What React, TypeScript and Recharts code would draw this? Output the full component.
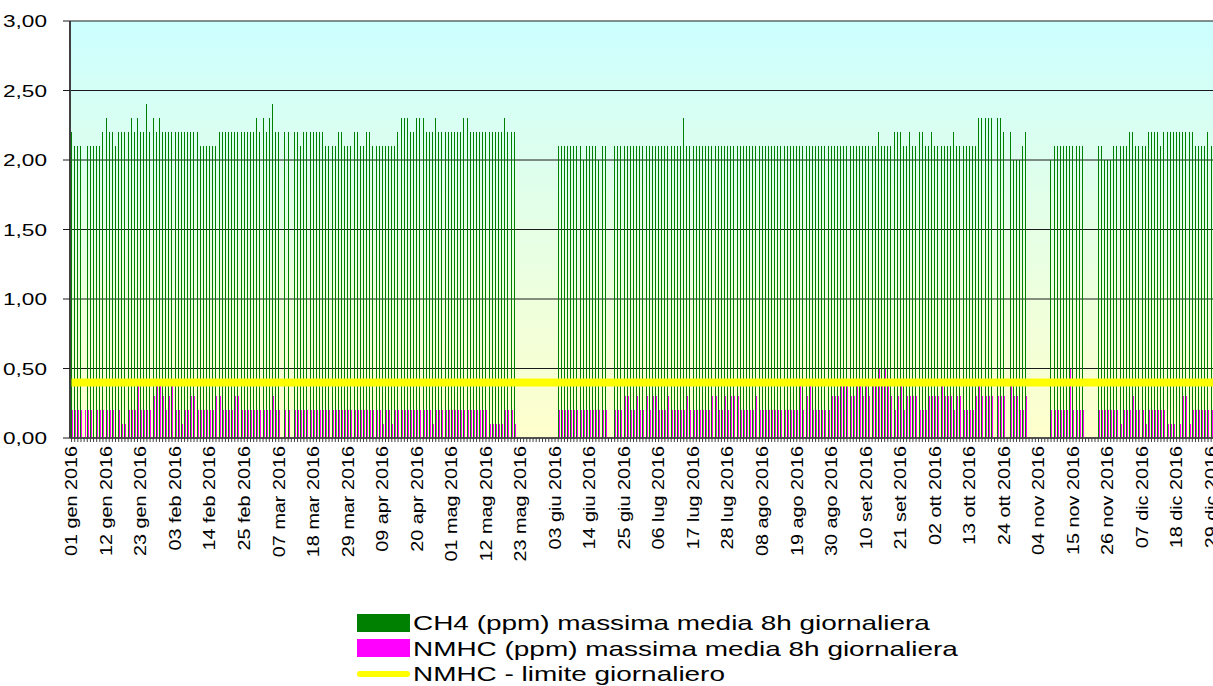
import React from 'react';
import { ComposedChart, Bar, Line, XAxis, YAxis, CartesianGrid, Legend } from 'recharts';

const FONT = '"Liberation Sans", Arial, Helvetica, sans-serif';

// categorie: un giorno per ogni barra
const MONTHS = ['gen', 'feb', 'mar', 'apr', 'mag', 'giu', 'lug', 'ago', 'set', 'ott', 'nov', 'dic'];
const MONTH_DAYS = [31, 29, 31, 30, 31, 30, 31, 31, 30, 31, 30, 31];
const YEAR = '2016';

// etichette dell'asse X (una ogni 11 giorni)
const TICK_EVERY = 11;

const _ = null;

// CH4 (ppm) massima media 8h giornaliera
const ch4Gen = [2.2, 2.1, 2.1, 2.1, _, 2.1, 2.1, 2.1, 2.1, 2.1, 2.2, 2.3, 2.2, 2.2, 2.1, 2.2, 2.2, 2.2, 2.2, 2.3, 2.2, 2.3, 2.2, 2.2, 2.4, 2.2, 2.3, 2.2, 2.3, 2.2, 2.2];
const ch4Feb = [2.2, 2.2, 2.2, 2.2, 2.2, 2.2, 2.2, 2.2, 2.2, 2.2, 2.1, 2.1, 2.1, 2.1, 2.1, 2.1, 2.2, 2.2, 2.2, 2.2, 2.2, 2.2, 2.2, 2.2, 2.2, 2.2, 2.2, 2.2, 2.3];
const ch4Mar = [2.2, 2.3, 2.2, 2.3, 2.4, 2.2, 2.2, _, 2.2, 2.2, _, 2.2, 2.2, 2.1, 2.2, 2.2, 2.2, 2.2, 2.2, 2.2, 2.2, 2.1, 2.1, 2.1, 2.1, 2.2, 2.2, 2.1, 2.1, 2.1, 2.2];
const ch4Apr = [2.2, 2.1, 2.1, 2.2, 2.2, 2.1, 2.1, 2.1, 2.1, 2.1, 2.1, 2.1, 2.1, 2.2, 2.3, 2.3, 2.3, 2.2, 2.2, 2.3, 2.3, 2.3, 2.2, 2.2, 2.2, 2.3, 2.2, 2.2, 2.2, 2.2];
const ch4Mag = [2.2, 2.2, 2.2, 2.2, 2.3, 2.3, 2.2, 2.2, 2.2, 2.2, 2.2, 2.2, 2.2, 2.2, 2.2, 2.2, 2.2, 2.3, 2.2, 2.2, 2.2, _, _, _, _, _, _, _, _, _, _];
const ch4Giu = [_, _, _, 2.1, 2.1, 2.1, 2.1, 2.1, 2.1, 2.1, 2.1, 2.0, 2.1, 2.1, 2.1, 2.1, 2.0, 2.1, 2.1, _, _, 2.1, 2.1, 2.1, 2.1, 2.1, 2.1, 2.1, 2.1, 2.1];
const ch4Lug = [2.1, 2.1, 2.1, 2.1, 2.1, 2.1, 2.1, 2.1, 2.1, 2.1, 2.1, 2.1, 2.1, 2.3, 2.1, 2.1, 2.1, 2.1, 2.1, 2.1, 2.1, 2.1, 2.1, 2.1, 2.1, 2.1, 2.1, 2.1, 2.1, 2.1, 2.1];
const ch4Ago = [2.1, 2.1, 2.1, 2.1, 2.1, 2.1, 2.1, 2.1, 2.1, 2.1, 2.1, 2.1, 2.1, 2.1, 2.1, 2.1, 2.1, 2.1, 2.1, 2.1, 2.1, 2.1, 2.1, 2.1, 2.1, 2.1, 2.1, 2.1, 2.1, 2.1, 2.1];
const ch4Set = [2.1, 2.1, 2.1, 2.1, 2.1, 2.1, 2.1, 2.1, 2.1, 2.1, 2.1, 2.1, 2.1, 2.2, 2.1, 2.1, 2.1, 2.1, 2.2, 2.2, 2.2, 2.1, 2.1, 2.2, 2.1, 2.1, 2.2, 2.2, 2.1, 2.1];
const ch4Ott = [2.2, 2.1, 2.1, 2.1, 2.1, 2.1, 2.1, 2.2, 2.1, 2.1, 2.1, 2.1, 2.1, 2.1, 2.1, 2.3, 2.3, 2.3, 2.3, 2.3, _, 2.3, 2.3, 2.2, _, 2.2, 2.0, 2.0, 2.0, 2.1, 2.2];
const ch4Nov = [_, _, _, _, _, _, _, 2.0, 2.1, 2.1, 2.1, 2.1, 2.1, 2.1, 2.1, 2.1, 2.1, 2.1, _, _, _, _, 2.1, 2.1, 2.0, 2.0, 2.0, 2.1, 2.1, 2.1];
const ch4Dic = [2.1, 2.1, 2.2, 2.2, 2.1, 2.1, 2.1, 2.1, 2.2, 2.2, 2.2, 2.2, 2.1, 2.2, 2.2, 2.2, 2.2, 2.2, 2.2, 2.2, 2.2, 2.2, 2.2, 2.1, 2.1, 2.1, 2.1, 2.2, 2.1, 2.1, 2.1];

// NMHC (ppm) massima media 8h giornaliera
const nmhcGen = [0.2, 0.2, 0.2, 0.2, 0.2, 0.2, 0.2, _, 0.2, 0.2, 0.2, 0.2, 0.2, 0.2, _, 0.2, 0.1, 0.1, 0.2, 0.2, 0.2, 0.4, 0.2, 0.2, 0.2, 0.2, 0.3, 0.4, 0.4, 0.3, 0.2];
const nmhcFeb = [0.3, 0.4, 0.2, 0.2, 0.1, 0.2, 0.2, 0.3, 0.3, 0.2, 0.2, 0.2, 0.2, 0.2, 0.2, 0.3, 0.3, 0.2, 0.2, 0.2, 0.2, 0.3, 0.3, 0.2, 0.2, 0.2, 0.2, 0.2, 0.2];
const nmhcMar = [0.2, 0.2, 0.2, 0.2, 0.3, 0.2, 0.2, _, 0.2, 0.2, _, 0.2, 0.2, 0.2, 0.2, 0.2, 0.2, 0.2, 0.2, 0.2, 0.2, 0.2, 0.2, 0.2, 0.2, 0.2, 0.2, 0.2, 0.2, 0.2, 0.2];
const nmhcApr = [0.2, 0.2, 0.2, 0.2, 0.2, 0.2, 0.2, 0.2, 0.1, 0.2, 0.2, 0.1, 0.2, 0.2, 0.2, 0.2, 0.2, 0.2, 0.2, 0.2, 0.2, 0.2, 0.2, 0.2, 0.1, 0.2, 0.2, 0.2, 0.2, 0.2];
const nmhcMag = [0.2, 0.2, 0.2, 0.2, 0.2, 0.2, 0.2, 0.2, 0.2, 0.2, 0.2, 0.2, 0.1, 0.1, 0.1, 0.1, 0.1, 0.2, 0.2, 0.2, 0.1, _, _, _, _, _, _, _, _, _, _];
const nmhcGiu = [_, _, _, 0.2, 0.2, 0.2, 0.2, 0.2, 0.2, 0.2, 0.2, 0.2, 0.2, 0.2, 0.2, 0.2, 0.2, 0.2, 0.2, _, _, 0.2, 0.2, 0.2, 0.3, 0.3, 0.2, 0.2, 0.3, 0.2];
const nmhcLug = [0.2, 0.3, 0.2, 0.3, 0.3, 0.2, 0.2, 0.2, 0.3, 0.2, 0.2, 0.2, 0.2, 0.2, 0.3, 0.2, 0.2, 0.2, 0.2, 0.2, 0.2, 0.2, 0.3, 0.3, 0.2, 0.2, 0.3, 0.2, 0.3, 0.3, 0.3];
const nmhcAgo = [0.2, 0.2, 0.2, 0.2, 0.2, 0.3, 0.2, 0.2, 0.2, 0.2, 0.2, 0.2, 0.2, 0.2, 0.2, 0.2, 0.2, 0.2, 0.2, 0.4, 0.2, 0.3, 0.4, 0.2, 0.2, 0.2, 0.2, 0.2, 0.2, 0.3, 0.3];
const nmhcSet = [0.3, 0.4, 0.4, 0.4, 0.3, 0.3, 0.4, 0.4, 0.3, 0.4, 0.3, 0.4, 0.4, 0.5, 0.4, 0.5, 0.4, 0.3, 0.2, 0.3, 0.4, 0.2, 0.3, 0.3, 0.3, 0.3, 0.2, 0.2, 0.2, 0.3];
const nmhcOtt = [0.3, 0.3, 0.3, 0.4, 0.3, 0.3, 0.3, 0.2, 0.3, 0.3, 0.2, 0.2, 0.2, 0.2, 0.3, 0.4, 0.3, 0.3, 0.3, 0.3, _, 0.3, 0.3, 0.3, _, 0.4, 0.3, 0.3, 0.2, 0.2, 0.3];
const nmhcNov = [_, _, _, _, _, _, _, 0.2, 0.2, 0.2, 0.2, 0.2, 0.2, 0.5, 0.2, 0.2, 0.2, 0.2, _, _, _, _, 0.2, 0.2, 0.2, 0.2, 0.2, 0.2, 0.2, 0.1];
const nmhcDic = [0.2, 0.2, 0.2, 0.3, 0.2, 0.2, 0.2, 0.1, 0.2, 0.2, 0.2, 0.2, 0.2, 0.2, 0.1, 0.1, 0.1, _, 0.1, 0.3, 0.3, 0.1, 0.2, 0.2, 0.2, 0.2, 0.2, 0.2, 0.2, 0.2, 0.2];

// limite giornaliero NMHC
const NMHC_LIMIT = 0.4;

const ch4 = [ch4Gen, ch4Feb, ch4Mar, ch4Apr, ch4Mag, ch4Giu, ch4Lug, ch4Ago, ch4Set, ch4Ott, ch4Nov, ch4Dic].flat();
const nmhc = [nmhcGen, nmhcFeb, nmhcMar, nmhcApr, nmhcMag, nmhcGiu, nmhcLug, nmhcAgo, nmhcSet, nmhcOtt, nmhcNov, nmhcDic].flat();
const days = MONTHS.flatMap((m, i) =>
  Array.from({ length: MONTH_DAYS[i] }, (_v, k) => `${String(k + 1).padStart(2, '0')} ${m} ${YEAR}`)
);

const data = days.map((day, i) => ({ day, ch4: ch4[i], nmhc: nmhc[i], limit: NMHC_LIMIT }));

const fmt = (v: number) => v.toFixed(2).replace('.', ',');

const SlimBar = (p: any) => {
  if (p.value == null || !p.height || p.height <= 0) return <g />;
  return <rect x={p.x} y={p.y} width={p.width} height={p.height} fill={p.fill} shapeRendering="crispEdges" />;
};

const YTick = ({ x, y, payload }: any) => (
  <text
    transform={`translate(${x},${y}) scale(1.33,1)`}
    textAnchor="end"
    dy="0.36em"
    fontSize={17}
    fontFamily={FONT}
    fill="#000"
  >
    {fmt(payload.value)}
  </text>
);

const XTick = ({ x, y, payload, index }: any) => {
  if (index % TICK_EVERY !== 0) return <g />;
  return (
    <text
      transform={`translate(${x},${y}) scale(1,1.2) rotate(-90)`}
      textAnchor="end"
      dy="0.35em"
      fontSize={16.5}
      fontFamily={FONT}
      fill="#000"
    >
      {payload.value}
    </text>
  );
};

const renderLegend = (props: any) => {
  const { payload = [] } = props;
  return (
    <div style={{ fontFamily: FONT, fontSize: 21, color: '#000' }}>
      {payload.map((entry: any) => (
        <div key={entry.value} style={{ display: 'flex', alignItems: 'center', height: 25.5 }}>
          <span
            style={{
              display: 'inline-block',
              width: 53,
              height: entry.type === 'line' ? 6 : 18,
              background: entry.color,
              borderRadius: entry.type === 'line' ? 3 : 0,
            }}
          />
          <span style={{ marginLeft: 3, whiteSpace: 'nowrap', transform: 'scaleX(1.33)', transformOrigin: 'left center', lineHeight: '25.5px' }}>
            {entry.value}
          </span>
        </div>
      ))}
    </div>
  );
};

const App: React.FC = () => {
  return (
    <div style={{ position: 'fixed', left: 0, top: 0, width: 1213, height: 686, overflow: 'hidden', background: '#fff' }}>
      <ComposedChart
        width={1230}
        height={686}
        data={data}
        margin={{ top: 21, right: 11, bottom: 0, left: 0 }}
        barGap={0}
      >
        <defs>
          <linearGradient id="plotBg" x1="0" y1="0" x2="0" y2="1">
            <stop offset="0" stopColor="#CCFFFF" />
            <stop offset="1" stopColor="#FFFFCC" />
          </linearGradient>
        </defs>
        <CartesianGrid vertical={false} stroke="#1a1a1a" fill="url(#plotBg)" fillOpacity={1} />
        <XAxis
          dataKey="day"
          interval={0}
          height={248}
          tickSize={4}
          tickMargin={4}
          tick={<XTick />}
          stroke="#404040"
          axisLine={{ stroke: '#404040', strokeWidth: 1.5 }}
          tickLine={{ stroke: '#404040' }}
        />
        <YAxis
          domain={[0, 3]}
          ticks={[0, 0.5, 1, 1.5, 2, 2.5, 3]}
          width={70}
          tickSize={7}
          tickMargin={16}
          tick={<YTick />}
          axisLine={{ stroke: '#404040', strokeWidth: 2 }}
          tickLine={{ stroke: '#1a1a1a' }}
          interval={0}
        />
        <Legend
          layout="vertical"
          align="center"
          verticalAlign="middle"
          content={renderLegend}
          wrapperStyle={{ left: 357, top: 610 }}
        />
        <Bar dataKey="ch4" name="CH4 (ppm) massima media 8h giornaliera" fill="#008000" barSize={1} legendType="rect" shape={SlimBar} isAnimationActive={false} />
        <Bar dataKey="nmhc" name="NMHC (ppm) massima media 8h giornaliera" fill="#FF00FF" barSize={1} legendType="rect" shape={SlimBar} isAnimationActive={false} />
        <Line dataKey="limit" name="NMHC - limite giornaliero" stroke="#FFFF00" strokeWidth={8} dot={false} activeDot={false} legendType="line" isAnimationActive={false} />
      </ComposedChart>
    </div>
  );
};

export default App;
